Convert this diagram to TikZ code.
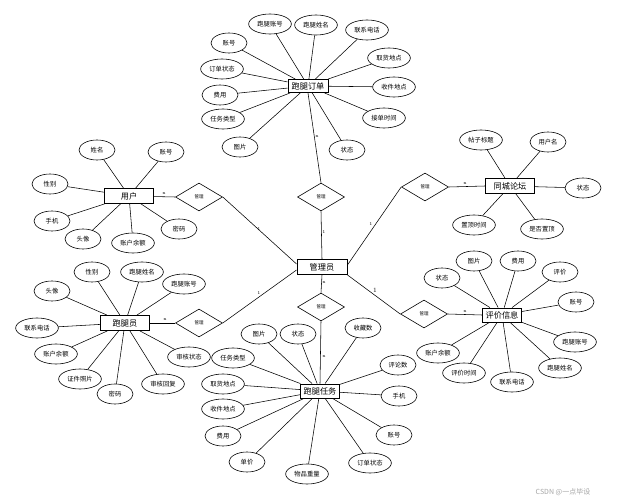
\documentclass[tikz,border=0pt]{standalone}
\usepackage{fontspec}
\newfontfamily\cjk{Noto Sans CJK SC}
\usetikzlibrary{shapes.geometric}
\begin{document}
\begin{tikzpicture}[x=1pt,y=-1pt,
 ent/.style={draw,line width=0.9pt,minimum width=49pt,minimum height=15pt,inner sep=1pt,fill=white,font=\cjk\fontsize{8.2}{9}\selectfont},
 attr/.style={draw,ellipse,line width=0.6pt,minimum width=36pt,minimum height=20pt,inner xsep=2.5pt,inner ysep=1pt,fill=white,font=\cjk\fontsize{6.3}{7}\selectfont},
 rel/.style={draw,diamond,line width=0.6pt,minimum width=47pt,minimum height=28pt,inner sep=0pt,fill=white,font=\cjk\fontsize{4.5}{5}\selectfont},
 ln/.style={line width=0.55pt},
 card/.style={font=\fontsize{4.5}{5}\selectfont,inner sep=0.5pt}]
\useasboundingbox[fill=white] (0,0) rectangle (619,503);

% attributes of 跑腿订单
\node[attr] (d1) at (270,24) {跑腿账号};
\node[attr] (d2) at (316,25) {跑腿姓名};
\node[attr] (d3) at (367,30) {联系电话};
\node[attr] (d4) at (229,43) {账号};
\node[attr] (d5) at (389,58) {取货地点};
\node[attr] (d6) at (222,69) {订单状态};
\node[attr] (d7) at (394,87) {收件地点};
\node[attr] (d8) at (220,95) {费用};
\node[attr] (d9) at (384,118) {接单时间};
\node[attr] (d10) at (223,119) {任务类型};
\node[attr] (d11) at (240,147) {图片};
\node[attr] (d12) at (347,150) {状态};

% attributes of 用户
\node[attr] (u1) at (97,150) {姓名};
\node[attr] (u2) at (166,152) {账号};
\node[attr] (u3) at (50,184) {性别};
\node[attr] (u4) at (52,221) {手机};
\node[attr] (u5) at (83,239) {头像};
\node[attr] (u6) at (133,243) {账户余额};
\node[attr] (u7) at (179,229) {密码};

% attributes of 同城论坛
\node[attr] (f1) at (481,140) {帖子标题};
\node[attr] (f2) at (548,142) {用户名};
\node[attr] (f3) at (583,188) {状态};
\node[attr] (f4) at (474,225) {置顶时间};
\node[attr] (f5) at (542,229) {是否置顶};

% attributes of 跑腿员
\node[attr] (p1) at (92,272) {性别};
\node[attr] (p2) at (142,272) {跑腿姓名};
\node[attr] (p3) at (184,284) {跑腿账号};
\node[attr] (p4) at (52,291) {头像};
\node[attr] (p5) at (37,328) {联系电话};
\node[attr] (p6) at (56,354) {账户余额};
\node[attr] (p7) at (80,379) {证件照片};
\node[attr] (p8) at (115,394) {密码};
\node[attr] (p9) at (163,384) {审核回复};
\node[attr] (p10) at (189,357) {审核状态};

% attributes of 跑腿任务
\node[attr] (t1) at (259,334) {图片};
\node[attr] (t2) at (298,334) {状态};
\node[attr] (t3) at (363,328) {收藏数};
\node[attr] (t4) at (233,358) {任务类型};
\node[attr] (t5) at (398,365) {评论数};
\node[attr] (t6) at (223,384) {取货地点};
\node[attr] (t7) at (399,396) {手机};
\node[attr] (t8) at (223,409) {收件地点};
\node[attr] (t9) at (223,436) {费用};
\node[attr] (t10) at (394,435) {账号};
\node[attr] (t11) at (247,462) {单价};
\node[attr] (t12) at (370,463) {订单状态};
\node[attr] (t13) at (307,474) {物品重量};

% attributes of 评价信息
\node[attr] (e1) at (442,278) {状态};
\node[attr] (e2) at (474,261) {图片};
\node[attr] (e3) at (518,261) {费用};
\node[attr] (e4) at (560,272) {评价};
\node[attr] (e5) at (576,302) {账号};
\node[attr] (e6) at (575,342) {跑腿账号};
\node[attr] (e7) at (560,368) {跑腿姓名};
\node[attr] (e8) at (512,382) {联系电话};
\node[attr] (e9) at (464,373) {评价时间};
\node[attr] (e10) at (438,353) {账户余额};

% entities
\node[ent,minimum width=40pt,minimum height=13pt] (dd) at (308,86) {跑腿订单};
\node[ent] (yh) at (129,196) {用户};
\node[ent] (lt) at (510,186) {同城论坛};
\node[ent] (pty) at (125,323) {跑腿员};
\node[ent,minimum width=50pt] (gly) at (322,267) {管理员};
\node[ent,minimum width=39pt,minimum height=14pt] (rw) at (320,391) {跑腿任务};
\node[ent,minimum width=39pt,minimum height=14pt] (pj) at (502,315) {评价信息};

% relationships
\node[rel] (r1) at (321,197) {管理};
\node[rel] (r2) at (199,197) {管理};
\node[rel] (r3) at (425,187) {管理};
\node[rel] (r4) at (199,323) {管理};
\node[rel] (r5) at (321,307) {管理};
\node[rel] (r6) at (424,314) {管理};

% attribute connectors
\foreach \a in {d1,d2,d3,d4,d5,d6,d7,d8,d9,d10,d11,d12} \draw[ln] (dd) -- (\a);
\foreach \a in {u1,u2,u3,u4,u5,u6,u7} \draw[ln] (yh) -- (\a);
\foreach \a in {f1,f2,f3,f4,f5} \draw[ln] (lt) -- (\a);
\foreach \a in {p1,p2,p3,p4,p5,p6,p7,p8,p9,p10} \draw[ln] (pty) -- (\a);
\foreach \a in {t1,t2,t3,t4,t5,t6,t7,t8,t9,t10,t11,t12,t13} \draw[ln] (rw) -- (\a);
\foreach \a in {e1,e2,e3,e4,e5,e6,e7,e8,e9,e10} \draw[ln] (pj) -- (\a);

% relationship connectors
\draw[ln] (yh) -- (r2.west);
\draw[ln] (r2.east) -- ([yshift=3pt]gly.west);
\draw[ln] (dd.south) -- (r1.north);
\draw[ln] (r1.south) -- (gly.north);
\draw[ln] (r3.west) -- ([yshift=2pt]gly.east);
\draw[ln] (r3.east) -- (lt.west);
\draw[ln] (pty) -- (r4.west);
\draw[ln] (r4.east) -- ([yshift=-3pt]gly.west);
\draw[ln] (r5.north) -- (gly.south);
\draw[ln] (r5.south) -- (rw.north);
\draw[ln] (r6.west) -- (gly.south east);
\draw[ln] (r6.east) -- (pj.west);

% cardinalities
\node[card] (c1) at (164,194) {n};
\node[card] (c2) at (259,229) {1};
\node[card] (c3) at (324,232) {1};
\node[card] (c4) at (371,224) {1};
\node[card] (c5) at (465,184) {n};
\node[card] (c6) at (165,320) {n};
\node[card] (c7) at (259,293) {1};
\node[card] (c8) at (324,283) {n};
\node[card] (c9) at (324,357) {n};
\node[card,font=\fontsize{6.5}{7}\selectfont] (c10) at (375,290) {1};
\node[card] (c11) at (465,312) {n};
\node[card] (c12) at (317,137) {n};

% watermark
\node[font=\cjk\fontsize{7}{8}\selectfont,text=gray!70] (wm) at (563,492) {CSDN @一点毕设};
\end{tikzpicture}
\end{document}
